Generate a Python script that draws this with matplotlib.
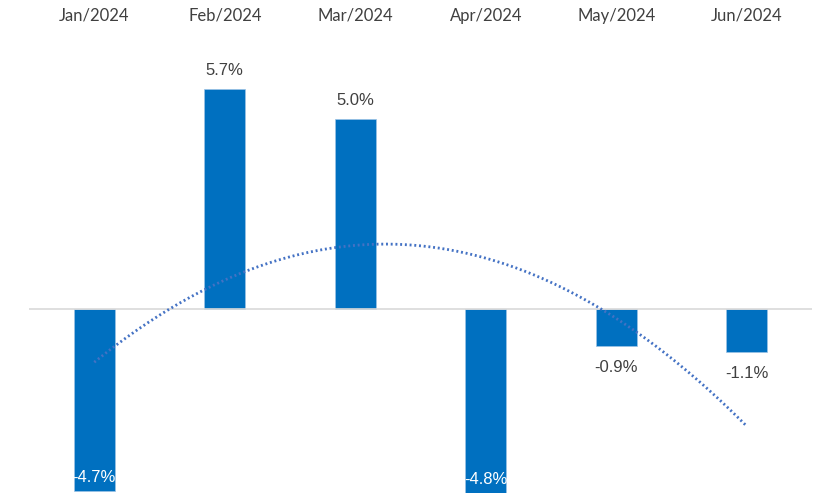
import numpy as np
import matplotlib
matplotlib.use("Agg")
import matplotlib.pyplot as plt

# monthly change, %
months = ["Jan/2024", "Feb/2024", "Mar/2024", "Apr/2024", "May/2024", "Jun/2024"]
values = [-4.73, 5.74, 4.95, -4.8, -0.94, -1.10]

bar_color = "#0070C0"
trend_color = "#4472C4"
text_color = "#404040"

fig = plt.figure(figsize=(8.18, 4.93), dpi=100)
ax = fig.add_axes([29 / 818, 0, 783 / 818, 1])

x = np.arange(len(months))
ax.bar(x, values, width=0.314, color=bar_color, edgecolor="#9DC3E6",
       linewidth=0.5, zorder=2)
ax.axhline(0, color="#D9D9D9", linewidth=1.2, zorder=3)

# polynomial (order 2) trendline, like Excel's
coef = np.polyfit(x, values, 2)
xs = np.linspace(x[0], x[-1], 300)
ax.plot(xs, np.polyval(coef, xs), color=trend_color, linewidth=2.0,
        linestyle=(0, (0.7, 1.0)), zorder=4)

ax.set_xlim(-0.5, len(months) - 0.5)
ymin, ymax = -4.77, 8.04
ax.set_ylim(ymin, ymax)
ax.axis("off")

# category labels along the top
for i, m in enumerate(months):
    ax.text(i, 1 - 15.5 / 493, m, transform=ax.get_xaxis_transform(),
            ha="center", va="center", fontsize=12, family="Lato",
            color=text_color)

# data labels
for i, v in enumerate(values):
    lbl = f"{v:.1f}%"
    if v >= 0:
        ax.annotate(lbl, (i, v), xytext=(0, 13), textcoords="offset points",
                    ha="center", va="center", fontsize=12,
                    family="Liberation Sans", color=text_color)
    elif v < -3:
        # big drops: label sits inside the bar, at its base
        ax.annotate(lbl, (i, max(v, ymin)), xytext=(0, 10),
                    textcoords="offset points", ha="center", va="center",
                    fontsize=12, family="Liberation Sans", color="white",
                    zorder=5)
    else:
        ax.annotate(lbl, (i, v), xytext=(0, -15.5), textcoords="offset points",
                    ha="center", va="center", fontsize=12,
                    family="Liberation Sans", color=text_color)

fig.savefig("out.png", dpi=100)
